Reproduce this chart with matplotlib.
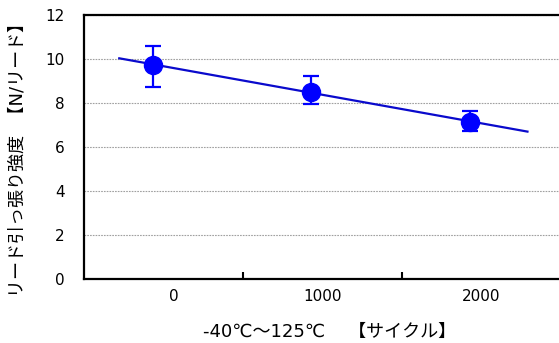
import numpy as np
import matplotlib
matplotlib.use("Agg")
import matplotlib.pyplot as plt
import matplotlib.transforms as mtransforms

plt.rcParams['font.family'] = ['DejaVu Sans', 'Noto Sans CJK JP']

# Thermal cycling test: lead pull strength after -40℃～125℃ cycles
cycles = ["0", "1000", "2000"]
strength_mean = [9.73, 8.49, 7.14]
strength_max = [10.56, 9.23, 7.62]
strength_min = [8.74, 7.95, 6.70]

y_ticks = [0, 2, 4, 6, 8, 10, 12]

fig = plt.figure(figsize=(5.59, 3.43), dpi=100)
W, H = 559, 343
left, right, top, bottom = 84, 560.5, 14.7, 279
ax = fig.add_axes([left / W, (H - bottom) / H, (right - left) / W, (bottom - top) / H])

idx = np.arange(len(cycles))
# the scatter series sits slightly left of each category centre
xpos = idx - 0.068
mean = np.array(strength_mean)
yerr = np.vstack([mean - np.array(strength_min), np.array(strength_max) - mean])

ax.errorbar(xpos, mean, yerr=yerr, fmt='o', color='#0000FF', ms=13,
            elinewidth=1.6, capsize=6, capthick=1.6, zorder=4)

# linear trendline with backward/forward extension
slope, intercept = np.polyfit(xpos, mean, 1)
xt = np.array([xpos[0] - 0.21, xpos[-1] + 0.36])
ax.plot(xt, slope * xt + intercept, color='#0A0ACC', lw=1.6, zorder=3)

ax.set_xlim(-0.5, len(cycles) - 0.5)
ax.set_ylim(0, 12)
ax.set_yticks(y_ticks)
ax.set_yticklabels([str(t) for t in y_ticks], fontsize=11)
ax.tick_params(axis='y', length=0, pad=14)

ax.set_xticks(idx)
ax.set_xticklabels(cycles, fontsize=11)
ax.tick_params(axis='x', which='major', length=0, pad=7)
ax.set_xticks(idx[:-1] + 0.5, minor=True)
ax.tick_params(axis='x', which='minor', direction='in', length=5, width=1.5, color='black')
first = ax.get_xticklabels()[0]
first.set_transform(first.get_transform() + mtransforms.ScaledTranslation(0.1, 0, fig.dpi_scale_trans))

ax.yaxis.grid(True, color='#A0A0A0', lw=0.8, linestyle=(0, (1.5, 1)))
ax.set_axisbelow(True)

for s in ['left', 'top', 'bottom', 'right']:
    ax.spines[s].set_color('black')
    ax.spines[s].set_linewidth(1.6)

ax.set_ylabel('リード引っ張り強度  【N/リード】', fontsize=13)
ax.yaxis.set_label_coords(-(left - 17) / (right - left), (279 - 155) / (bottom - top))
ax.set_xlabel('-40℃～125℃    【サイクル】', fontsize=13)
ax.xaxis.set_label_coords((330 - left) / (right - left), -(332 - bottom) / (bottom - top))
ax.xaxis.label.set_verticalalignment('center')
ax.yaxis.label.set_verticalalignment('center')

fig.savefig('out.png', dpi=100)
